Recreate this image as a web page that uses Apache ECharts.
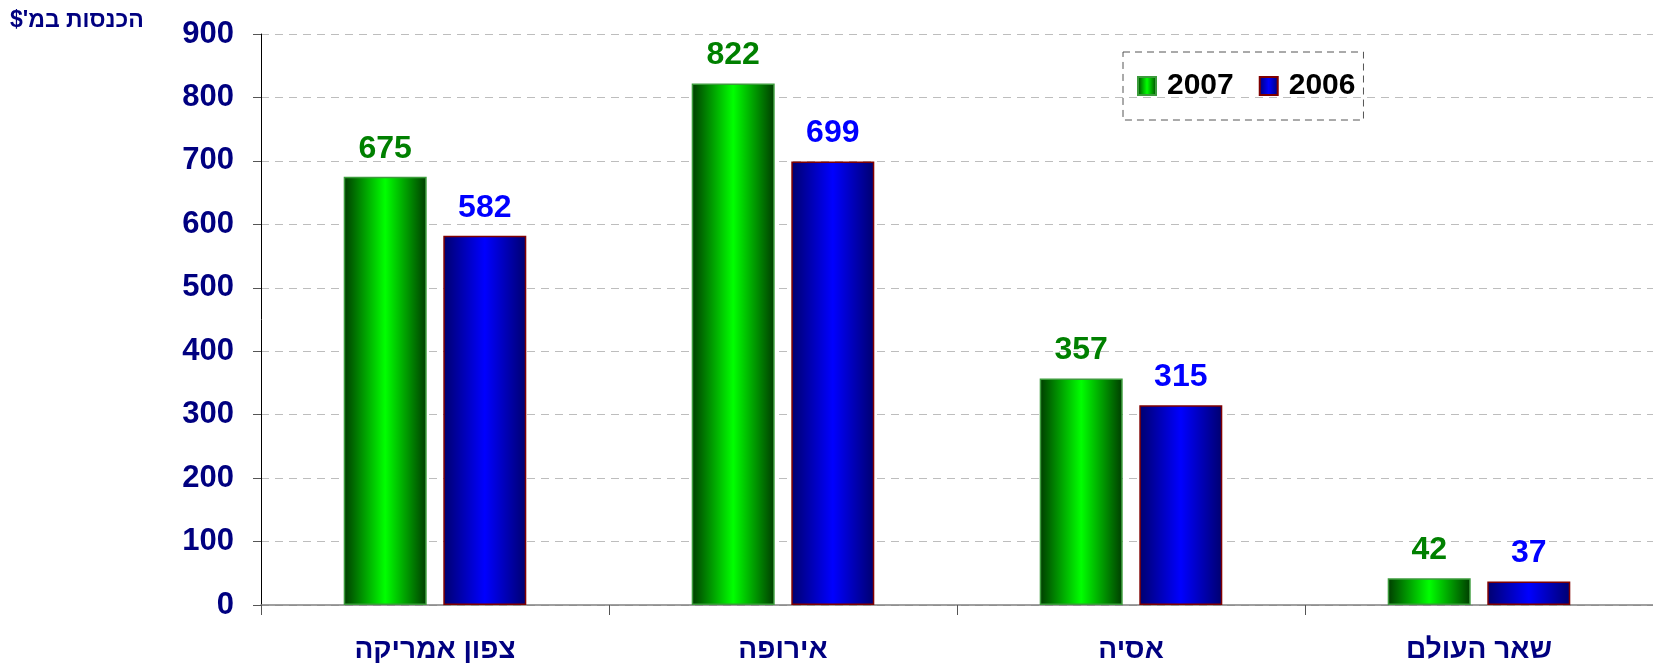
<!DOCTYPE html>
<html>
<head>
<meta charset="utf-8">
<script src="https://cdn.jsdelivr.net/npm/echarts@6/dist/echarts.min.js"></script>
<style>
html, body { margin: 0; padding: 0; background: #fff; }
#main { width: 1653px; height: 664px; }
</style>
</head>
<body>
<div id="main"></div>
<script>
var regions = ['צפון אמריקה', 'אירופה', 'אסיה', 'שאר העולם'];
var values2007 = [675, 822, 357, 42];
var values2006 = [582, 699, 315, 37];
var yTicks = { min: 0, max: 900, step: 100 };
var unitTitle = "\u2067הכנסות במ'$\u2069";

var myChart = echarts.init(document.getElementById('main'));

function barGradient (edge, mid) {
    return new echarts.graphic.LinearGradient(0, 0, 1, 0, [
        { offset: 0, color: edge },
        { offset: 0.5, color: mid },
        { offset: 1, color: edge }
    ]);
}

var font = 'Liberation Sans, Arial, sans-serif';

var option = {
    backgroundColor: '#fff',
    textStyle: { fontFamily: font },
    title: {
        text: unitTitle,
        left: 10,
        top: 9,
        padding: 0,
        textStyle: { color: '#000080', fontSize: 23, fontWeight: 'bold', fontFamily: font }
    },
    legend: {
        data: ['2007', '2006'],
        left: 1123,
        top: 52,
        padding: [19, 8, 19, 14],
        itemGap: 25,
        itemWidth: 18,
        itemHeight: 18,
        icon: 'rect',
        borderColor: '#555',
        borderWidth: 1,
        borderType: [7, 5],
        textStyle: {
            color: '#000',
            fontSize: 30,
            lineHeight: 30,
            fontWeight: 'bold',
            fontFamily: font,
            padding: [0, 0, 0, 6]
        }
    },
    grid: {
        left: 261,
        right: -12,
        top: 34,
        bottom: 57,
        containLabel: false
    },
    xAxis: {
        type: 'category',
        data: regions,
        axisLine: { lineStyle: { color: '#808080', width: 1.5 } },
        axisTick: { show: true, length: 10, lineStyle: { color: '#555' } },
        axisLabel: {
            color: '#000080',
            fontSize: 28,
            fontWeight: 'bold',
            margin: 31,
            fontFamily: font
        },
        splitLine: { show: false }
    },
    yAxis: {
        type: 'value',
        min: yTicks.min,
        max: yTicks.max,
        interval: yTicks.step,
        axisLine: { show: true, lineStyle: { color: '#000', width: 1 } },
        axisTick: { show: true, length: 8, lineStyle: { color: '#555' } },
        axisLabel: {
            color: '#000080',
            fontSize: 31,
            fontWeight: 'bold',
            margin: 27,
            fontFamily: font
        },
        splitLine: { show: true, lineStyle: { color: '#bdbdbd', type: [8, 6] } }
    },
    series: [{
        name: '2007',
        type: 'bar',
        data: values2007,
        barWidth: 83,
        barGap: '20%',
        itemStyle: {
            color: barGradient('#003c00', '#00ff00'),
            borderColor: '#3c9c3c',
            borderWidth: 1.5
        },
        label: {
            show: true,
            position: 'top',
            distance: 12,
            color: '#008000',
            fontSize: 32,
            fontWeight: 'bold',
            fontFamily: font
        }
    }, {
        name: '2006',
        type: 'bar',
        data: values2006,
        barWidth: 83,
        itemStyle: {
            color: barGradient('#00006e', '#0000ff'),
            borderColor: '#800000',
            borderWidth: 1.5
        },
        label: {
            show: true,
            position: 'top',
            distance: 12,
            color: '#0000ff',
            fontSize: 32,
            fontWeight: 'bold',
            fontFamily: font
        }
    }]
};

option && myChart.setOption(option);
</script>
</body>
</html>
